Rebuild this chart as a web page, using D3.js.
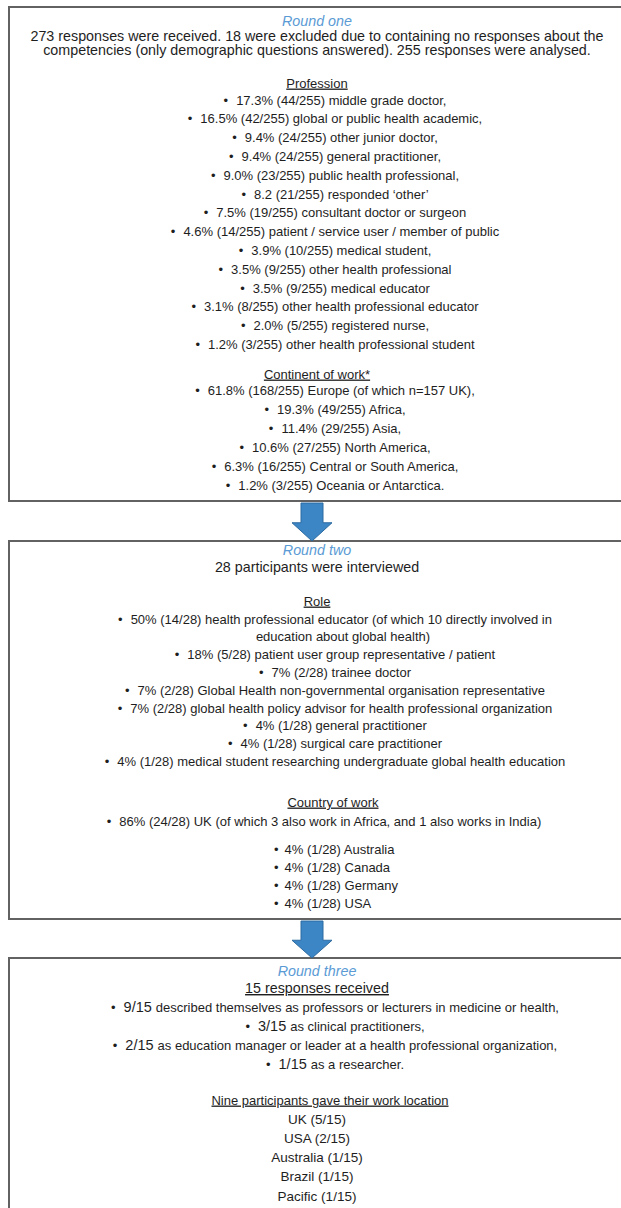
<!DOCTYPE html>
<html>
<head>
<meta charset="utf-8">
<script src="https://cdn.jsdelivr.net/npm/d3@7"></script>
<style>
  body { margin: 0; background: #fff; }
  text { font-family: "Liberation Sans", Arial, sans-serif; fill: #1e1e1e; }
</style>
</head>
<body>
<div id="chart"></div>
<script>
// Round one data
var roundOneIntro = [
  "273 responses were received. 18 were excluded due to containing no responses about the",
  "competencies (only demographic questions answered). 255 responses were analysed."
];
var professionItems = [
  "17.3% (44/255) middle grade doctor,",
  "16.5% (42/255) global or public health academic,",
  "9.4% (24/255) other junior doctor,",
  "9.4% (24/255) general practitioner,",
  "9.0% (23/255) public health professional,",
  "8.2 (21/255) responded \u2018other\u2019",
  "7.5% (19/255) consultant doctor or surgeon",
  "4.6% (14/255) patient / service user / member of public",
  "3.9% (10/255) medical student,",
  "3.5% (9/255) other health professional",
  "3.5% (9/255) medical educator",
  "3.1% (8/255) other health professional educator",
  "2.0% (5/255) registered nurse,",
  "1.2% (3/255) other health professional student"
];
var continentItems = [
  "61.8% (168/255) Europe (of which n=157 UK),",
  "19.3% (49/255) Africa,",
  "11.4% (29/255) Asia,",
  "10.6% (27/255) North America,",
  "6.3% (16/255) Central or South America,",
  "1.2% (3/255) Oceania or Antarctica."
];

// Round two data (second value = line is a continuation without bullet)
var roleItems = [
  ["50% (14/28) health professional educator (of which 10 directly involved in", false],
  ["education about global health)", true],
  ["18% (5/28) patient user group representative / patient", false],
  ["7% (2/28) trainee doctor", false],
  ["7% (2/28) Global Health non-governmental organisation representative", false],
  ["7% (2/28) global health policy advisor for health professional organization", false],
  ["4% (1/28) general practitioner", false],
  ["4% (1/28) surgical care practitioner", false],
  ["4% (1/28) medical student researching undergraduate global health education", false]
];
var countryMain = "86% (24/28) UK (of which 3 also work in Africa, and 1 also works in India)";
var countryItems = [
  "4% (1/28) Australia",
  "4% (1/28) Canada",
  "4% (1/28) Germany",
  "4% (1/28) USA"
];

// Round three data
var roundThreeCounts = ["9/15", "3/15", "2/15", "1/15"];
var roundThreeRoles = [
  "described themselves as professors or lecturers in medicine or health,",
  "as clinical practitioners,",
  "as education manager or leader at a health professional organization,",
  "as a researcher."
];
var locationItems = ["UK (5/15)", "USA (2/15)", "Australia (1/15)", "Brazil (1/15)", "Pacific (1/15)"];

var width = 621, height = 1208;
var cx = 317;      // centre of headings
var lx = 335;      // centre of the indented bullet lists
var blue = "#5b9bd5";

var svg = d3.select("#chart")
  .append("svg")
    .attr("width", width)
    .attr("height", height);

// Boxes (right and bottom edges run past the page)
var boxes = [[7, 501], [541, 919], [958, 1240]];
svg.selectAll(".box")
  .data(boxes)
  .enter().append("rect")
    .attr("class", "box")
    .attr("x", 9)
    .attr("y", function(d) { return d[0]; })
    .attr("width", 640)
    .attr("height", function(d) { return d[1] - d[0]; })
    .attr("fill", "none")
    .attr("stroke", "#626262")
    .attr("stroke-width", 2);

// Arrows between boxes
var arrows = [[502, 541], [920, 958]];
var ax = d3.scaleLinear().domain([-1, 1]).range([292, 332]);
svg.selectAll(".arrow")
  .data(arrows)
  .enter().append("path")
    .attr("class", "arrow")
    .attr("d", function(d) {
      var top = d[0] + 1, tip = d[1], head = top + (tip - top) * 0.52;
      return "M" + ax(-0.55) + "," + top + "L" + ax(0.55) + "," + top +
        "L" + ax(0.55) + "," + head + "L" + ax(1) + "," + head +
        "L" + ax(0) + "," + tip + "L" + ax(-1) + "," + head +
        "L" + ax(-0.55) + "," + head + "Z";
    })
    .attr("fill", "#3c86c6")
    .attr("stroke", "#2c6aa0")
    .attr("stroke-width", 1);

// helper for a single centred line
function line(y, txt, size, opts) {
  opts = opts || {};
  var t = svg.append("text")
    .attr("x", opts.x || cx)
    .attr("y", y)
    .attr("dy", "0.35em")
    .attr("text-anchor", opts.anchor || "middle")
    .style("font-size", size + "px");
  if (opts.bullet) {
    t.append("tspan").text("\u2022");
    t.append("tspan").attr("dx", 8).text(txt);
  } else {
    t.text(txt);
  }
  if (opts.italic) t.style("font-style", "italic").style("fill", blue);
  if (opts.underline) t.style("text-decoration", "underline");
  return t;
}

// bulleted, centred list
function bullets(items, y0, step, size, x) {
  var y = d3.scaleLinear().domain([0, 1]).range([y0, y0 + step]);
  var t = svg.append("g").selectAll("text")
    .data(items)
    .enter().append("text")
      .attr("x", x)
      .attr("y", function(d, i) { return y(i); })
      .attr("dy", "0.35em")
      .attr("text-anchor", "middle")
      .style("font-size", size + "px");
  t.append("tspan").text("\u2022");
  t.append("tspan").attr("dx", 8).text(function(d) { return d; });
  return t;
}

// Round one
line(21, "Round one", 14.3, { italic: true });
roundOneIntro.forEach(function(d, i) { line(35.5 + i * 14.5, d, 14.3); });
line(83, "Profession", 13, { underline: true });
bullets(professionItems, 100, 18.8, 13, lx);
line(374, "Continent of work*", 13, { underline: true });
bullets(continentItems, 390, 19, 13, lx);

// Round two
line(550, "Round two", 14.3, { italic: true });
line(567, "28 participants were interviewed", 14.3);
line(601, "Role", 13, { underline: true });
var ry = d3.scaleLinear().domain([0, 1]).range([619, 636.8]);
var roles = svg.append("g").selectAll("text")
  .data(roleItems)
  .enter().append("text")
    .attr("x", function(d) { return d[1] ? lx + 8 : lx; })
    .attr("y", function(d, i) { return ry(i); })
    .attr("dy", "0.35em")
    .attr("text-anchor", "middle")
    .style("font-size", "13px");
roles.filter(function(d) { return !d[1]; }).append("tspan").text("\u2022");
roles.append("tspan")
  .attr("dx", function(d) { return d[1] ? 0 : 8; })
  .text(function(d) { return d[0]; });
line(802, "Country of work", 13, { underline: true, x: 333 });
line(821, countryMain, 13, { bullet: true, x: 324 });
var cy = d3.scaleLinear().domain([0, 1]).range([849, 867]);
var ctry = svg.append("g").selectAll("text")
  .data(countryItems)
  .enter().append("text")
    .attr("x", 274)
    .attr("y", function(d, i) { return cy(i); })
    .attr("dy", "0.35em")
    .style("font-size", "13px");
ctry.append("tspan").text("\u2022");
ctry.append("tspan").attr("dx", 6).text(function(d) { return d; });

// Round three
line(971, "Round three", 14.3, { italic: true });
line(988, "15 responses received", 14.3, { underline: true });
var ty = d3.scaleLinear().domain([0, 1]).range([1007, 1026]);
var r3 = svg.append("g").selectAll("text")
  .data(roundThreeCounts)
  .enter().append("text")
    .attr("x", lx)
    .attr("y", function(d, i) { return ty(i); })
    .attr("dy", "0.35em")
    .attr("text-anchor", "middle")
    .style("font-size", "13px");
r3.append("tspan").text("\u2022");
r3.append("tspan").attr("dx", 8).style("font-size", "14.5px").text(function(d) { return d; });
r3.append("tspan").attr("dx", 4).text(function(d, i) { return roundThreeRoles[i]; });
line(1100, "Nine participants gave their work location", 13, { underline: true, x: 330 });
var ly = d3.scaleLinear().domain([0, 1]).range([1119, 1138.2]);
svg.append("g").selectAll("text")
  .data(locationItems)
  .enter().append("text")
    .attr("x", cx)
    .attr("y", function(d, i) { return ly(i); })
    .attr("dy", "0.35em")
    .attr("text-anchor", "middle")
    .style("font-size", "13.5px")
    .text(function(d) { return d; });
</script>
</body>
</html>
